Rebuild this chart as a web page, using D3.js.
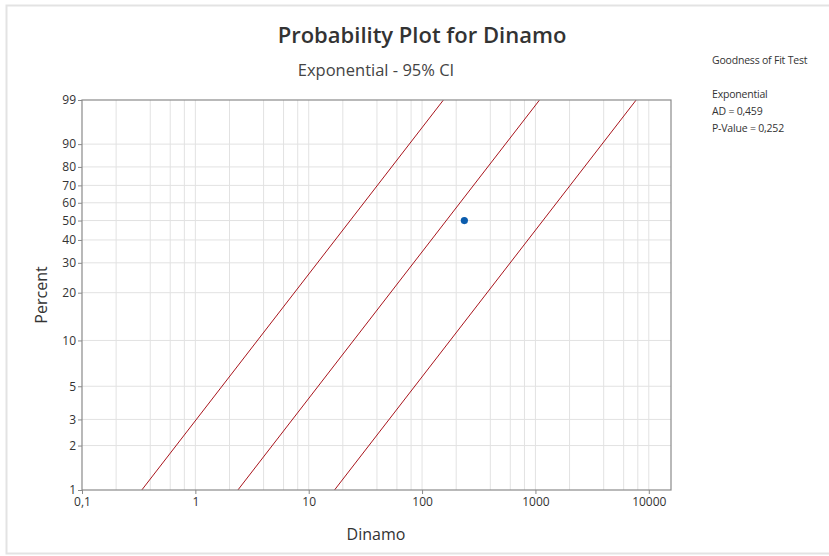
<!DOCTYPE html>
<html>
<head>
<meta charset="utf-8">
<script src="https://cdn.jsdelivr.net/npm/d3@7.9.0/dist/d3.min.js"></script>
<style>
  body { margin: 0; background: #fff; }
  svg text { font-family: "Open Sans", "Noto Sans", sans-serif; }
</style>
</head>
<body>
<svg id="chart" width="829" height="556"></svg>
<script>
// ─────────── DATA ───────────
const dinamo = [236];                 // observed value(s)
const plotPercent = [50];             // median rank of the single point
const fitScale = 236;                 // exponential fit (mean)
const ciLowerScale = 33.5;            // 95% CI, lower band
const ciUpperScale = 1680;            // 95% CI, upper band
const lineEnds = [1, 99];             // percent range of fitted lines

const yTicks = [1, 2, 3, 5, 10, 20, 30, 40, 50, 60, 70, 80, 90, 99];
const xTicks = [0.1, 1, 10, 100, 1000, 10000];
const xTickLabels = ["0,1", "1", "10", "100", "1000", "10000"];
const xGridMult = [1, 2, 4, 6, 8];

const gofLines = ["Exponential", "AD = 0,459", "P-Value = 0,252"];

// ─────────── LAYOUT ───────────
const svg = d3.select("#chart");
const m = { left: 82, right: 671, top: 100, bottom: 490 };

// frame
svg.append("rect")
  .attr("x", 6.5).attr("y", 5.5).attr("width", 840).attr("height", 548)
  .attr("fill", "none").attr("stroke", "#e3e3e3").attr("stroke-width", 2);

// exponential probability transform
const pt = p => Math.log(-Math.log(1 - p / 100));

const x = d3.scaleLog().domain([0.1, 15700]).range([m.left, m.right]);
const y = d3.scaleLinear().domain([pt(1), pt(99)]).range([m.bottom, m.top]);

// ─────────── GRID ───────────
const grid = svg.append("g");
const xGrid = [];
xTicks.forEach(t => xGridMult.forEach(k => {
  const v = t * k;
  if (v > 0.1 && v < 15700) xGrid.push(v);
}));
grid.selectAll("line.xg").data(xGrid).join("line")
  .attr("x1", d => x(d)).attr("x2", d => x(d))
  .attr("y1", m.top).attr("y2", m.bottom)
  .attr("stroke", "#e2e2e2").attr("stroke-width", 1);
grid.selectAll("line.yg").data(yTicks.slice(1, -1)).join("line")
  .attr("x1", m.left).attr("x2", m.right)
  .attr("y1", d => y(pt(d))).attr("y2", d => y(pt(d)))
  .attr("stroke", "#e2e2e2").attr("stroke-width", 1);

// ─────────── FIT + CI LINES ───────────
svg.append("clipPath").attr("id", "clip")
  .append("rect").attr("x", m.left).attr("y", m.top)
  .attr("width", m.right - m.left).attr("height", m.bottom - m.top);

const lineGen = d3.line()
  .x(d => x(d[0]))
  .y(d => y(pt(d[1])));

[ciLowerScale, fitScale, ciUpperScale].forEach(theta => {
  const pts = lineEnds.map(p => [theta * -Math.log(1 - p / 100), p]);
  svg.append("path")
    .attr("d", lineGen(pts))
    .attr("fill", "none")
    .attr("stroke", "#a8141c")
    .attr("stroke-width", 1)
    .attr("clip-path", "url(#clip)");
});

// data point
svg.selectAll("circle.pt").data(dinamo).join("circle")
  .attr("cx", d => x(d))
  .attr("cy", (d, i) => y(pt(plotPercent[i])))
  .attr("r", 3.6)
  .attr("fill", "#0b5cad");

// ─────────── AXES ───────────
const axisCol = "#8a8a8a";
svg.append("rect")
  .attr("x", m.left).attr("y", m.top)
  .attr("width", m.right - m.left).attr("height", m.bottom - m.top)
  .attr("fill", "none").attr("stroke", axisCol).attr("stroke-width", 1.2);

const xAxis = svg.append("g").attr("transform", `translate(0,${m.bottom})`)
  .call(d3.axisBottom(x).tickValues(xTicks)
    .tickFormat((d, i) => xTickLabels[i]).tickSize(4).tickPadding(3));
xAxis.select(".domain").remove();
xAxis.selectAll("line").attr("stroke", axisCol);
xAxis.selectAll("text").attr("fill", "#333").attr("font-size", 12);

const yAxis = svg.append("g").attr("transform", `translate(${m.left},0)`)
  .call(d3.axisLeft(y).tickValues(yTicks.map(pt))
    .tickFormat((d, i) => yTicks[i]).tickSize(4).tickPadding(2));
yAxis.select(".domain").remove();
yAxis.selectAll("line").attr("stroke", axisCol);
yAxis.selectAll("text").attr("fill", "#333").attr("font-size", 12);

// ─────────── TITLES ───────────
svg.append("text")
  .attr("x", 422).attr("y", 43)
  .attr("text-anchor", "middle")
  .attr("font-size", 22).attr("font-weight", 600).attr("fill", "#333")
  .text("Probability Plot for Dinamo");

svg.append("text")
  .attr("x", 376).attr("y", 76)
  .attr("text-anchor", "middle")
  .attr("font-size", 16.5).attr("fill", "#444")
  .text("Exponential - 95% CI");

svg.append("text")
  .attr("x", 376).attr("y", 540)
  .attr("text-anchor", "middle")
  .attr("font-size", 16).attr("fill", "#333")
  .text("Dinamo");

svg.append("text")
  .attr("transform", "translate(47,295) rotate(-90)")
  .attr("text-anchor", "middle")
  .attr("font-size", 16).attr("fill", "#333")
  .text("Percent");

// ─────────── GOODNESS OF FIT BOX ───────────
svg.append("text")
  .attr("x", 712).attr("y", 64)
  .attr("font-size", 10.5).attr("fill", "#333").attr("letter-spacing", -0.2)
  .text("Goodness of Fit Test");

svg.selectAll("text.gof").data(gofLines).join("text")
  .attr("x", 712).attr("y", (d, i) => 98 + i * 17)
  .attr("font-size", 10.5).attr("fill", "#333").attr("letter-spacing", -0.2)
  .text(d => d);
</script>
</body>
</html>
